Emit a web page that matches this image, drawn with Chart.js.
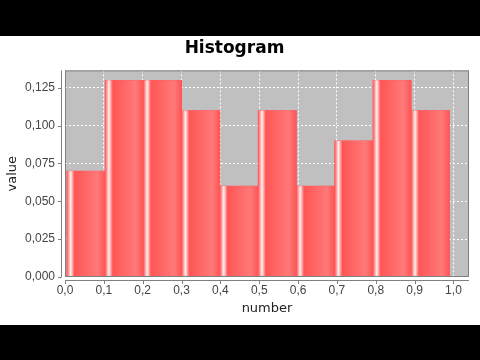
<!DOCTYPE html>
<html>
<head>
<meta charset="utf-8">
<script src="https://cdn.jsdelivr.net/npm/chart.js@4/dist/chart.umd.min.js"></script>
<style>
  html, body { margin: 0; padding: 0; background: #ffffff; }
  canvas { display: block; }
</style>
</head>
<body>
<canvas id="c" width="480" height="360"></canvas>
<script>
// ---- data ----
const binEdges = [0.005, 0.103, 0.202, 0.300, 0.399, 0.497, 0.596, 0.694, 0.793, 0.891, 0.990];
const binValues = [0.07, 0.13, 0.13, 0.11, 0.06, 0.11, 0.06, 0.09, 0.13, 0.11];
const xTickStep = 0.1;
const yTickStep = 0.025;
const chartTitle = 'Histogram';
const xAxisTitle = 'number';
const yAxisTitle = 'value';

const points = binValues.map((v, i) => ({ x: (binEdges[i] + binEdges[i + 1]) / 2, y: v }));

const BAR_BASE = 'rgb(255,85,85)';
const BAR_BRIGHT = 'rgb(255,121,121)';

const framePlugin = {
  id: 'frame',
  beforeDraw(chart) {
    const { ctx, chartArea: a } = chart;
    ctx.save();
    ctx.fillStyle = '#ffffff';
    ctx.fillRect(0, 0, chart.width, chart.height);
    ctx.fillStyle = '#000000';
    ctx.fillRect(0, 0, chart.width, 36);
    ctx.fillRect(0, 325, chart.width, chart.height - 325);
    ctx.fillStyle = '#c0c0c0';
    ctx.fillRect(a.left, a.top, a.right - a.left, a.bottom - a.top);
    ctx.restore();
  },
  afterDatasetsDraw(chart) {
    const { ctx } = chart;
    const meta = chart.getDatasetMeta(0);
    ctx.save();
    meta.data.forEach((el) => {
      const p = el.getProps(['x', 'y', 'base', 'width'], true);
      const left = p.x - p.width / 2;
      const g = ctx.createLinearGradient(left, 0, left + p.width, 0);
      g.addColorStop(0, BAR_BASE);
      g.addColorStop(0.1, 'rgb(255,240,240)');
      g.addColorStop(0.2, BAR_BASE);
      g.addColorStop(0.8, BAR_BRIGHT);
      g.addColorStop(1, BAR_BASE);
      ctx.fillStyle = g;
      ctx.fillRect(left, p.y, p.width, p.base - p.y);
    });
    ctx.restore();
  },
  afterDraw(chart) {
    const { ctx, chartArea: a, scales } = chart;
    ctx.save();
    ctx.strokeStyle = '#808080';
    ctx.lineWidth = 1;
    // plot outline
    ctx.strokeRect(a.left + 0.5, a.top + 0.5, a.right - a.left - 1, a.bottom - a.top - 1);
    // offset axis lines
    ctx.beginPath();
    ctx.moveTo(61.5, a.top);
    ctx.lineTo(61.5, a.bottom);
    ctx.moveTo(a.left, a.bottom + 3.5);
    ctx.lineTo(a.right, a.bottom + 3.5);
    scales.y.ticks.forEach((t) => {
      const py = Math.round(scales.y.getPixelForValue(t.value)) + 0.5;
      ctx.moveTo(58, py);
      ctx.lineTo(61.5, py);
    });
    scales.x.ticks.forEach((t) => {
      const px = Math.round(scales.x.getPixelForValue(t.value)) + 0.5;
      ctx.moveTo(px, a.bottom + 3.5);
      ctx.lineTo(px, a.bottom + 7);
    });
    ctx.stroke();
    ctx.restore();
  }
};

new Chart(document.getElementById('c'), {
  type: 'bar',
  data: {
    datasets: [{
      label: 'Histogram',
      data: points,
      backgroundColor: BAR_BASE,
      borderWidth: 0,
      barPercentage: 1.0,
      categoryPercentage: 1.0
    }]
  },
  options: {
    responsive: false,
    animation: false,
    events: [],
    layout: { padding: { top: 36, bottom: 35, left: 0, right: 11 } },
    plugins: {
      legend: { display: false },
      tooltip: { enabled: false },
      title: {
        display: true,
        text: chartTitle,
        color: '#000000',
        font: { family: 'DejaVu Sans', size: 17, weight: 'bold' },
        padding: { top: 2, bottom: 12 }
      }
    },
    scales: {
      x: {
        type: 'linear',
        min: 0,
        max: 1.04,
        offset: false,
        grid: { offset: false, color: '#ffffff', drawTicks: false, drawOnChartArea: true },
        border: { display: false, dash: [2, 2] },
        ticks: {
          stepSize: xTickStep,
          includeBounds: false,
          maxRotation: 0,
          autoSkip: false,
          padding: 6,
          color: '#444444',
          font: { family: 'Liberation Sans', size: 12 },
          callback: (v) => v.toFixed(1).replace('.', ',')
        },
        title: {
          display: true,
          text: xAxisTitle,
          color: '#222222',
          font: { family: 'DejaVu Sans', size: 13 },
          padding: { top: 0, bottom: 9 }
        },
        afterFit: (s) => { s.height = 48; }
      },
      y: {
        type: 'linear',
        min: 0,
        max: 0.1365,
        grid: { color: '#ffffff', drawTicks: false },
        border: { display: false, dash: [2, 2] },
        ticks: {
          stepSize: yTickStep,
          includeBounds: false,
          padding: 10,
          color: '#444444',
          font: { family: 'Liberation Sans', size: 12 },
          callback: (v) => v.toFixed(3).replace('.', ',')
        },
        title: {
          display: true,
          text: yAxisTitle,
          color: '#222222',
          font: { family: 'DejaVu Sans', size: 13 },
          padding: { top: 5, bottom: 0 }
        },
        afterFit: (s) => { s.width = 65; }
      }
    }
  },
  plugins: [framePlugin]
});
</script>
</body>
</html>
